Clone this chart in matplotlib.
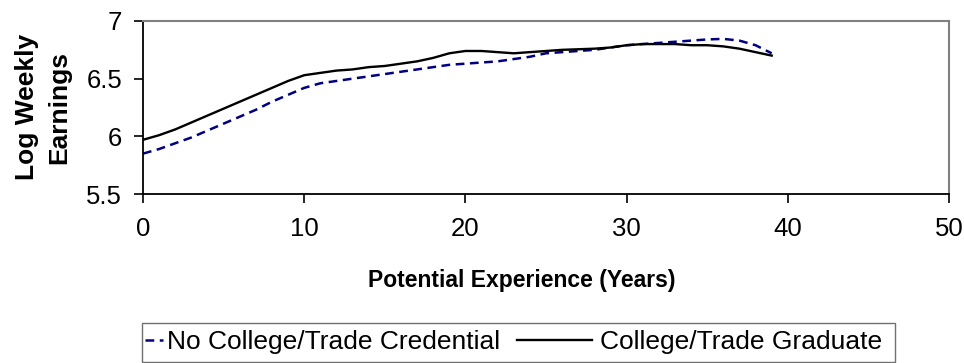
import numpy as np
import matplotlib.pyplot as plt
from matplotlib.patches import Rectangle

plt.rcParams['font.family'] = ['Liberation Sans', 'DejaVu Sans']

# Potential experience in years
years = np.arange(0, 40)

# Log weekly earnings, no college/trade credential
no_credential = [5.85, 5.89, 5.94, 5.99, 6.05, 6.11, 6.17, 6.23, 6.30, 6.36,
                 6.42, 6.46, 6.48, 6.50, 6.52, 6.54, 6.56, 6.58, 6.60, 6.62,
                 6.63, 6.64, 6.65, 6.67, 6.69, 6.72, 6.73, 6.74, 6.75, 6.77,
                 6.79, 6.80, 6.81, 6.82, 6.83, 6.84, 6.845, 6.83, 6.79, 6.72]

# Log weekly earnings, college/trade graduate
graduate = [5.97, 6.01, 6.06, 6.12, 6.18, 6.24, 6.30, 6.36, 6.42, 6.48,
            6.53, 6.55, 6.57, 6.58, 6.60, 6.61, 6.63, 6.65, 6.68, 6.72,
            6.74, 6.74, 6.73, 6.72, 6.73, 6.74, 6.75, 6.755, 6.76, 6.77,
            6.79, 6.80, 6.80, 6.80, 6.79, 6.79, 6.78, 6.76, 6.73, 6.70]

x_ticks = [0, 10, 20, 30, 40, 50]
y_ticks = [5.5, 6, 6.5, 7]
y_tick_labels = ['5.5', '6', '6.5', '7']

W, H = 964, 363
fig = plt.figure(figsize=(W / 100, H / 100), dpi=100)
ax = fig.add_axes([143 / W, 1 - 194 / H, 806 / W, 173 / H])

line_nc, = ax.plot(years, no_credential, color='#000080',
                   linestyle=(0, (3.5, 2.2)), linewidth=1.8,
                   dash_joinstyle='round',
                   label='No College/Trade Credential')
line_gr, = ax.plot(years, graduate, color='black', linewidth=1.7,
                   solid_joinstyle='round',
                   label='College/Trade Graduate')

ax.set_xlim(0, 50)
ax.set_ylim(5.5, 7)
ax.set_xticks(x_ticks)
ax.set_yticks(y_ticks)
ax.set_yticklabels(y_tick_labels)

for side in ['top', 'right']:
    ax.spines[side].set_color('#808080')
    ax.spines[side].set_linewidth(1.5)
for side in ['left', 'bottom']:
    ax.spines[side].set_color('black')
    ax.spines[side].set_linewidth(1.3)

ax.tick_params(axis='both', direction='out', length=6.5, width=1.2,
               labelsize=18.5)
ax.tick_params(axis='x', pad=10)
ax.tick_params(axis='y', pad=8.5)

# axis titles
fig.text(522 / W, 1 - 280 / H, 'Potential Experience (Years)',
         fontsize=16.5, fontweight='bold', ha='center', va='center')
fig.text(43 / W, 1 - 107 / H, 'Log Weekly\nEarnings', rotation=90,
         fontsize=19, fontweight='bold', ha='center', va='center',
         multialignment='center', linespacing=1.45)

# legend: two entries with different handle lengths inside one frame
leg_kw = dict(loc='center left', frameon=False, fontsize=19, borderpad=0,
              borderaxespad=0)
leg1 = fig.legend(handles=[line_nc], bbox_to_anchor=(145 / W, 1 - 342.5 / H),
                  handlelength=0.68, handletextpad=0.15, **leg_kw)
leg2 = fig.legend(handles=[line_gr], bbox_to_anchor=(517 / W, 1 - 342.5 / H),
                  handlelength=2.84, handletextpad=0.3, **leg_kw)
fig.add_artist(Rectangle((142 / W, 1 - 362 / H), 753 / W, 39 / H,
                         transform=fig.transFigure, fill=False,
                         edgecolor='#707070', linewidth=1.0))

fig.savefig('out.png', dpi=100)
